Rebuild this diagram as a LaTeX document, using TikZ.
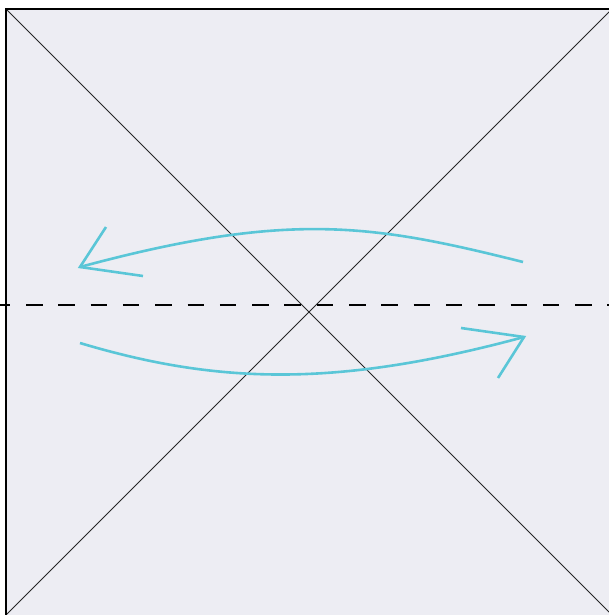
\documentclass[tikz,border=0pt]{standalone}
\definecolor{paper}{HTML}{EDEDF3}
\definecolor{flipcyan}{HTML}{5AC6D7}
\begin{document}
\begin{tikzpicture}[x=1pt, y=-1pt,
    arcline/.style={flipcyan, line width=2.6pt}]
    \useasboundingbox (0,0) rectangle (609,615);
    \clip (0,0) rectangle (609,615);
    % 正方形
    \coordinate (tl) at (6,9);
    \coordinate (tr) at (612,9);
    \coordinate (bl) at (6,615);
    \coordinate (br) at (612,615);
    \fill[paper] (tl) rectangle (br);
    \draw[line width=0.8pt, black!85] (tl) -- (br);
    \draw[line width=0.8pt, black!85] (bl) -- (tr);
    \draw[line width=2pt] (bl) -- (tl) -- (tr);

    % 虚线
    \coordinate (ml) at (0,305);
    \coordinate (mr) at (609,305);
    \draw[line width=2.2pt, dash pattern=on 16.5pt off 15.8pt, dash phase=6.3pt] (ml) -- (mr);

    % 箭头
    \coordinate (upR) at (523,262);
    \coordinate (upL) at (80,267);
    \coordinate (loL) at (80,343);
    \coordinate (loR) at (524,337);
    \draw[arcline] (upR) .. controls (373,224.5) and (290,210.3) .. (upL);
    \draw[arcline] (upL) ++(26,-40) -- (upL) -- ++(63,9);
    \draw[arcline] (loL) .. controls (220,385) and (339,387) .. (loR);
    \draw[arcline] (loR) ++(-63,-9) -- (loR) -- ++(-26,41);
\end{tikzpicture}
\end{document}
